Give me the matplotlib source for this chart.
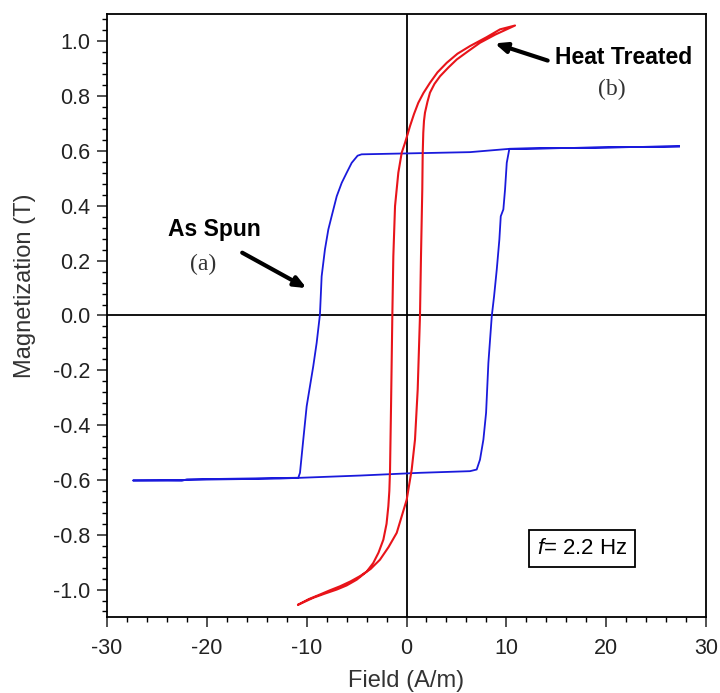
import numpy as np
import matplotlib.pyplot as plt

# As spun loop (blue)
spun_x = [27.3, 10.3, 6.36, -4.5, -4.9, -5.49, -5.99, -6.49, -6.99, -7.5, -7.83,
          -8.17, -8.5, -8.67, -9.0, -9.34, -9.67, -10.0, -10.34, -10.67, -10.84,
          -22.0, -22.5, -27.4,
          -22.5, -12.7, -4.66, 1.35, 6.36, 7.03, 7.36, 7.7, 7.97, 8.2, 8.54, 8.77,
          9.04, 9.3, 9.44, 9.7, 9.87, 10.04, 10.3, 27.3]
spun_y = [0.617, 0.608, 0.596, 0.588, 0.583, 0.557, 0.521, 0.484, 0.435, 0.362, 0.314,
          0.241, 0.143, 0.004, -0.1, -0.185, -0.258, -0.331, -0.453, -0.574, -0.592,
          -0.598, -0.603, -0.602,
          -0.600, -0.595, -0.584, -0.574, -0.568, -0.562, -0.526, -0.453, -0.355, -0.173, -0.002, 0.07,
          0.168, 0.277, 0.362, 0.387, 0.46, 0.557, 0.608, 0.617]

# Heat treated loop (red): ascending branch then descending branch
heat_x = [-10.84, -9.8, -8.67, -7.7, -6.66, -5.6, -4.66, -3.6, -2.66, -1.8, -0.98, -0.5,
          0.02, 0.52, 0.85, 1.12, 1.35, 1.45, 1.58, 1.62, 1.68, 1.75, 1.85, 2.1, 2.35,
          2.8, 3.36, 4.2, 5.03, 6.2, 7.36, 8.9, 10.87,
          9.37, 8.0, 6.36, 5.1, 4.03, 3.1, 2.35, 1.7, 1.18, 0.75, 0.35, 0.1, -0.15,
          -0.48, -0.82, -1.15, -1.32, -1.42, -1.55, -1.65, -1.72, -1.82, -2.0, -2.32,
          -2.8, -3.33, -4.0, -4.99, -6.0, -6.99, -8.2, -9.34, -10.84]
heat_y = [-1.055, -1.035, -1.018, -1.003, -0.988, -0.97, -0.951, -0.925, -0.891, -0.845, -0.793, -0.735,
          -0.672, -0.562, -0.453, -0.27, 0.0, 0.216, 0.46, 0.588, 0.667, 0.71, 0.74, 0.78, 0.813,
          0.845, 0.873, 0.905, 0.934, 0.965, 0.995, 1.025, 1.058,
          1.044, 1.015, 0.983, 0.955, 0.922, 0.887, 0.849, 0.812, 0.776, 0.735, 0.691, 0.66, 0.63,
          0.594, 0.521, 0.399, 0.216, 0.0, -0.331, -0.562, -0.64, -0.696, -0.76, -0.818,
          -0.865, -0.903, -0.935, -0.964, -0.985, -1.0, -1.015, -1.03, -1.055]

x_ticks = [-30, -20, -10, 0, 10, 20, 30]
y_ticks = [-1.0, -0.8, -0.6, -0.4, -0.2, 0.0, 0.2, 0.4, 0.6, 0.8, 1.0]

plt.rcParams['font.family'] = ['Liberation Sans', 'DejaVu Sans']
plt.rcParams['mathtext.fontset'] = 'custom'
plt.rcParams['mathtext.it'] = 'Liberation Sans:italic'
plt.rcParams['mathtext.rm'] = 'Liberation Sans'

fig = plt.figure(figsize=(7.2, 6.93), dpi=100)
ax = fig.add_axes([0.1486, 0.1097, 0.832, 0.8701])

ax.axhline(0, color='black', lw=1.3, zorder=1)
ax.axvline(0, color='black', lw=1.3, zorder=1)
ax.plot(spun_x, spun_y, color='#1a1adc', lw=1.3, zorder=2)
ax.plot(heat_x, heat_y, color='#e8141a', lw=1.5, zorder=3)

ax.set_xlim(-30, 30)
ax.set_ylim(-1.1, 1.1)
ax.set_xticks(x_ticks)
ax.set_yticks(y_ticks)
ax.set_xticks(np.arange(-30, 31, 2), minor=True)
ax.set_yticks(np.arange(-1.08, 1.1, 0.04), minor=True)
ax.set_xticklabels([str(v) for v in x_ticks])
ax.set_yticklabels(['%.1f' % v for v in y_ticks])
ax.tick_params(which='major', direction='out', length=7, width=1.1,
               labelsize=15.5, pad=5, colors='#222222')
ax.tick_params(axis='x', which='major', pad=8)
ax.tick_params(which='minor', direction='out', length=3.5, width=1.0)
for s in ax.spines.values():
    s.set_linewidth(1.3)

ax.set_xlabel('Field (A/m)', fontsize=17, color='#333333')
ax.set_ylabel('Magnetization (T)', fontsize=17, color='#333333')
ax.xaxis.set_label_coords(0.5, -0.088)
ax.yaxis.set_label_coords(-0.118, 0.55)

ax.annotate('', xy=(-9.77, 0.095), xytext=(-16.7, 0.234),
            arrowprops=dict(arrowstyle='-|>,head_length=0.7,head_width=0.3',
                            color='black', lw=3))
ax.text(-19.2, 0.315, 'As Spun', fontsize=16.5, fontweight='bold',
        ha='center', va='center')
ax.text(-20.4, 0.185, '(a)', fontsize=17, family='Liberation Serif',
        color='#333333', ha='center', va='center')

ax.annotate('', xy=(8.57, 0.996), xytext=(14.4, 0.927),
            arrowprops=dict(arrowstyle='-|>,head_length=0.7,head_width=0.3',
                            color='black', lw=3))
ax.text(14.9, 0.94, 'Heat Treated', fontsize=16.5, fontweight='bold',
        ha='left', va='center')
ax.text(20.6, 0.825, '(b)', fontsize=17, family='Liberation Serif',
        color='#333333', ha='center', va='center')

ax.text(17.6, -0.85, '$f$= 2.2 Hz', fontsize=16, ha='center', va='center',
        bbox=dict(boxstyle='square,pad=0.35', fc='white', ec='black', lw=1.3))

fig.savefig('out.png', dpi=100)
